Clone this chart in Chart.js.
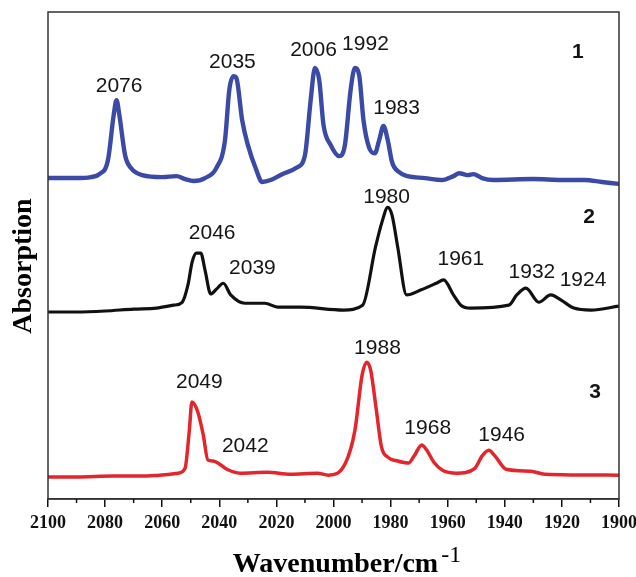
<!DOCTYPE html>
<html>
<head>
<meta charset="utf-8">
<script src="https://cdn.jsdelivr.net/npm/chart.js@4.4.1/dist/chart.umd.min.js"></script>
<style>
  html, body { margin: 0; padding: 0; background: #fff; }
  #wrap { width: 636px; height: 577px; }
</style>
</head>
<body>
<div id="wrap"><canvas id="ir"></canvas></div>
<script>
// Spectrum 1 (blue)
const wn1 = [2100,2090,2085,2082,2079,2077,2076,2075,2073,2071,2067,2060,2055,2052,2049,2045,2041,2038,2036.5,2035,2034,2032,2030,2027,2025,2022,2018,2013,2010,2008,2006.5,2005,2003.5,2001,1998,1996,1994,1992.5,1991,1989.5,1987.5,1985.5,1984,1982.5,1981,1979.5,1977,1974,1968,1962,1958,1956,1953,1951,1948,1944,1930,1920,1912,1906,1900];
const abs1 = [0,0,0.2,0.8,3.7,12.9,16.0,12.9,4.7,2.1,0.6,0.2,0.4,-0.2,-0.6,0,2.1,7.8,18.1,20.9,20.5,11.9,6.8,1.6,-0.8,-0.4,0.8,2.1,4.7,16.0,22.6,20.1,10.9,6.8,4.5,6.8,18.1,22.6,21.1,11.9,6.2,5.1,7.8,10.7,7.8,3.3,1.2,0.4,0,-0.4,0.4,1.0,0.6,0.8,0,-0.4,-0.2,-0.4,-0.4,-0.8,-1.2];

// Spectrum 2 (black)
const wn2 = [2100,2090,2080,2070,2062,2056,2053,2051,2049.5,2048,2046.5,2045,2043,2041,2038.6,2036,2031,2024,2019.6,2011.6,1996.5,1989.8,1985.3,1983,1981,1979.5,1977.5,1974.4,1969.5,1964,1961.4,1958,1955.4,1952,1938.6,1935.8,1932.6,1928.1,1923.9,1920.4,1915.8,1909.8,1900];
const abs2 = [-0.4,-0.4,-0.2,0.2,0.4,1.0,1.6,5.1,9.9,11.7,11.7,8.2,3.3,4.3,5.5,3.1,1.4,1.4,0.6,0.6,0,1.0,12.9,18.1,21.1,19.5,12.9,3.1,4.1,5.5,6.2,3.1,1.0,0.4,1.0,3.1,4.5,1.6,3.1,2.1,0.4,0,0.8];

// Spectrum 3 (red)
const wn3 = [2100,2090,2077,2067,2061,2054.4,2052,2050.5,2049.6,2047.5,2045.6,2044,2042.1,2040,2037.3,2032.7,2023.2,2015.1,2005.6,2001.8,1995.8,1992.5,1990,1988.4,1987,1985,1983.2,1981,1977.5,1973.7,1971.6,1969.1,1967.3,1964.9,1961.8,1956.8,1950.5,1948,1945.6,1943.4,1939.5,1930.9,1926,1900];
const abs3 = [-0.2,-0.2,0,0,0.2,0.6,1.6,9.4,15.2,13.1,8.4,3.3,3.1,2.5,1.4,0.6,0.8,0.4,0.6,0.2,2.7,9.4,20.7,23.4,21.8,13.6,6.0,3.9,3.1,2.7,4.3,6.4,5.3,2.9,1.2,0.6,1.6,4.1,5.3,4.1,1.4,1.0,0.4,0.2];

// vertical stacking offsets
const offsets = [65.9, 38.8, 4.7];

// peak labels (text, wavenumber, height)
const peakText1 = ['2076','2035','2006','1992','1983'];
const peakX1 = [2075.1,2035.4,2007.0,1988.8,1977.9];
const peakY1 = [84.8,89.7,92.2,93.4,80.3];
const peakText2 = ['2046','2039','1980','1961','1932','1924'];
const peakX2 = [2042.5,2028.4,1981.4,1955.4,1930.5,1912.6];
const peakY2 = [54.6,47.4,62.0,49.3,46.6,45.0];
const peakText3 = ['2049','2042','1988','1968','1946'];
const peakX3 = [2047.0,2030.9,1984.6,1967.0,1941.1];
const peakY3 = [24.0,10.9,31.0,14.6,13.1];

const seriesNames = ['1','2','3'];
const seriesNameX = [1914.4,1910.5,1908.4];
const seriesNameY = [91.8,57.9,22.0];

const xTicks = [2100,2080,2060,2040,2020,2000,1980,1960,1940,1920,1900];

function pts(wn, ab, off) { return wn.map((w,i)=>({x:w, y:ab[i]+off})); }

const SANS = '"Liberation Sans", Arial, sans-serif';
const SERIF = '"Liberation Serif", "Times New Roman", serif';

// frame, minor ticks, titles, annotations
const decor = {
  id: 'decor',
  afterDraw(chart) {
    const {ctx, chartArea:a, scales:{x, y}} = chart;
    ctx.save();
    ctx.strokeStyle = '#333';
    ctx.lineWidth = 1.5;
    ctx.strokeRect(a.left, a.top, a.right - a.left, a.bottom - a.top);
    // minor ticks
    ctx.strokeStyle = '#111';
    for (let v = 2090; v > 1900; v -= 20) {
      const px = x.getPixelForValue(v);
      ctx.beginPath(); ctx.moveTo(px, a.bottom); ctx.lineTo(px, a.bottom + 4); ctx.stroke();
    }
    // peak labels
    ctx.fillStyle = '#151515';
    ctx.textAlign = 'center';
    ctx.textBaseline = 'middle';
    ctx.font = '21px ' + SANS;
    [[peakText1,peakX1,peakY1],[peakText2,peakX2,peakY2],[peakText3,peakX3,peakY3]].forEach(([t,px,py])=>{
      t.forEach((s,i)=>ctx.fillText(s, x.getPixelForValue(px[i]), y.getPixelForValue(py[i])));
    });
    ctx.font = 'bold 21px ' + SANS;
    seriesNames.forEach((s,i)=>ctx.fillText(s, x.getPixelForValue(seriesNameX[i]), y.getPixelForValue(seriesNameY[i])));
    // x title with superscript
    ctx.fillStyle = '#000';
    const main = 'Wavenumber/cm';
    ctx.font = 'bold 28px ' + SERIF;
    const w1 = ctx.measureText(main).width;
    ctx.font = '24px ' + SERIF;
    const w2 = ctx.measureText('-1').width;
    const cx = (a.left + a.right) / 2 + 12;
    const startX = cx - (w1 + w2) / 2;
    ctx.textAlign = 'left';
    ctx.textBaseline = 'alphabetic';
    ctx.font = 'bold 28px ' + SERIF;
    ctx.fillText(main, startX, 572);
    ctx.font = '24px ' + SERIF;
    ctx.fillText('-1', startX + w1 + 3, 562);
    // y title
    ctx.translate(24, 266);
    ctx.rotate(-Math.PI / 2);
    ctx.textAlign = 'center';
    ctx.textBaseline = 'middle';
    ctx.font = 'bold 28px ' + SERIF;
    ctx.fillText('Absorption', 0, 0);
    ctx.restore();
  }
};

new Chart(document.getElementById('ir'), {
  type: 'line',
  data: {
    datasets: [
      { data: pts(wn1, abs1, offsets[0]), borderColor: '#3b4aa6', borderWidth: 4.4 },
      { data: pts(wn2, abs2, offsets[1]), borderColor: '#111111', borderWidth: 3.2 },
      { data: pts(wn3, abs3, offsets[2]), borderColor: '#e3262b', borderWidth: 3.5 }
    ]
  },
  options: {
    responsive: true,
    maintainAspectRatio: false,
    animation: false,
    layout: { padding: { top: 12, right: 17, left: 0, bottom: 0 } },
    elements: {
      point: { radius: 0 },
      line: { cubicInterpolationMode: 'monotone', borderJoinStyle: 'round', borderCapStyle: 'round' }
    },
    plugins: { legend: { display: false }, tooltip: { enabled: false } },
    scales: {
      x: {
        type: 'linear', reverse: true, min: 1900, max: 2100,
        afterFit(s) { s.height = 78; s.paddingLeft = 0; s.paddingRight = 0; },
        afterBuildTicks(s) { s.ticks = xTicks.map(v=>({value:v})); },
        grid: { display: true, drawOnChartArea: false, drawTicks: true, tickLength: 8, color: '#111', lineWidth: 1.5 },
        border: { display: true, color: '#333', width: 1.5 },
        ticks: {
          autoSkip: false, maxRotation: 0, padding: 6, color: '#111',
          font: { family: SERIF, size: 18, weight: 'bold' },
          callback: v => String(v)
        }
      },
      y: {
        min: 0, max: 100,
        afterFit(s) { s.width = 48; },
        grid: { display: false },
        border: { display: false },
        ticks: { display: false }
      }
    }
  },
  plugins: [decor]
});
</script>
</body>
</html>
